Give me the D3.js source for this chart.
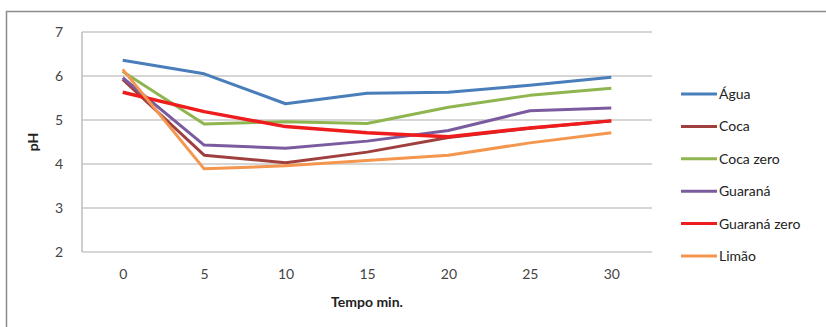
<!DOCTYPE html>
<style>
body { margin: 0; background: #fff; }
text { font-family: Lato, "Open Sans", sans-serif; }
.grid line { stroke: #c8c8c8; stroke-width: 1.5; }
.axis .domain, .axis line { display: none; }
.axis text { fill: #444; font-size: 14px; }
</style>
<svg width="826" height="327"></svg>
<script src="https://d3js.org/d3.v7.min.js"></script>
<script>

var tempos = [0, 5, 10, 15, 20, 25, 30];
var yTicks = [2, 3, 4, 5, 6, 7];

var agua        = [6.36, 6.05, 5.37, 5.61, 5.63, 5.79, 5.97];
var coca        = [5.92, 4.20, 4.03, 4.27, 4.60, 4.81, 4.98];
var cocaZero    = [6.10, 4.91, 4.96, 4.92, 5.29, 5.56, 5.72];
var guarana     = [5.96, 4.43, 4.36, 4.52, 4.76, 5.21, 5.27];
var guaranaZero = [5.63, 5.19, 4.85, 4.71, 4.62, 4.82, 4.98];
var limao       = [6.15, 3.89, 3.96, 4.08, 4.20, 4.48, 4.71];

var series = [
  {name: "Água", values: agua, color: "#4a7ebb", w: 3},
  {name: "Coca", values: coca, color: "#a0403e", w: 3},
  {name: "Coca zero", values: cocaZero, color: "#8fb550", w: 3},
  {name: "Guaraná", values: guarana, color: "#7a5c9e", w: 3},
  {name: "Guaraná zero", values: guaranaZero, color: "#ee1c1c", w: 3.5},
  {name: "Limão", values: limao, color: "#f5964f", w: 3}
];

var svg = d3.select("svg"),
    margin = {top: 32, left: 82, right: 174, bottom: 75},
    width = 826 - margin.left - margin.right,
    height = 327 - margin.top - margin.bottom;

// outer chart border
svg.append("rect")
    .attr("x", 6.5).attr("y", 11.5)
    .attr("width", 830).attr("height", 330)
    .attr("fill", "none")
    .attr("stroke", "#8c8c8c")
    .attr("stroke-width", 1.5);

var g = svg.append("g").attr("transform", "translate(" + margin.left + "," + margin.top + ")");

var x = d3.scalePoint()
    .domain(tempos)
    .range([0, width])
    .padding(0.5);

var y = d3.scaleLinear()
    .domain([2, 7])
    .range([height, 0]);

g.append("g")
    .attr("class", "grid")
  .selectAll("line")
  .data(yTicks)
  .enter().append("line")
    .attr("x1", 0)
    .attr("x2", width)
    .attr("y1", function(d) { return y(d); })
    .attr("y2", function(d) { return y(d); });

g.append("line")
    .attr("x1", 0).attr("x2", 0)
    .attr("y1", 0).attr("y2", height)
    .attr("stroke", "#bdbdbd")
    .attr("stroke-width", 1.5);

g.append("g")
    .attr("class", "axis")
    .call(d3.axisLeft(y).tickValues(yTicks).tickFormat(d3.format("d")).tickSize(0).tickPadding(19));

g.append("g")
    .attr("class", "axis")
    .attr("transform", "translate(0," + height + ")")
    .call(d3.axisBottom(x).tickSize(0).tickPadding(17));

g.append("text")
    .attr("transform", "translate(-44," + (height / 2) + ") rotate(-90)")
    .attr("text-anchor", "middle")
    .attr("font-size", 14)
    .attr("font-weight", "bold")
    .attr("fill", "#222")
    .text("pH");

g.append("text")
    .attr("x", width / 2)
    .attr("y", height + 55)
    .attr("text-anchor", "middle")
    .attr("font-size", 14)
    .attr("font-weight", "bold")
    .attr("fill", "#222")
    .text("Tempo min.");

var line = d3.line()
    .x(function(d, i) { return x(tempos[i]); })
    .y(function(d) { return y(d); });

g.selectAll(".serie")
  .data(series)
  .enter().append("path")
    .attr("class", "serie")
    .attr("fill", "none")
    .attr("stroke", function(d) { return d.color; })
    .attr("stroke-width", function(d) { return d.w; })
    .attr("stroke-linejoin", "round")
    .attr("d", function(d) { return line(d.values); });

var legend = svg.append("g")
    .attr("font-size", 14)
  .selectAll("g")
  .data(series)
  .enter().append("g")
    .attr("transform", function(d, i) { return "translate(681," + (94 + i * 32.4) + ")"; });

legend.append("line")
    .attr("x1", 0).attr("x2", 36)
    .attr("stroke", function(d) { return d.color; })
    .attr("stroke-width", 3);

legend.append("text")
    .attr("x", 38)
    .attr("dy", "0.35em")
    .attr("fill", "#222")
    .text(function(d) { return d.name; });

</script>
